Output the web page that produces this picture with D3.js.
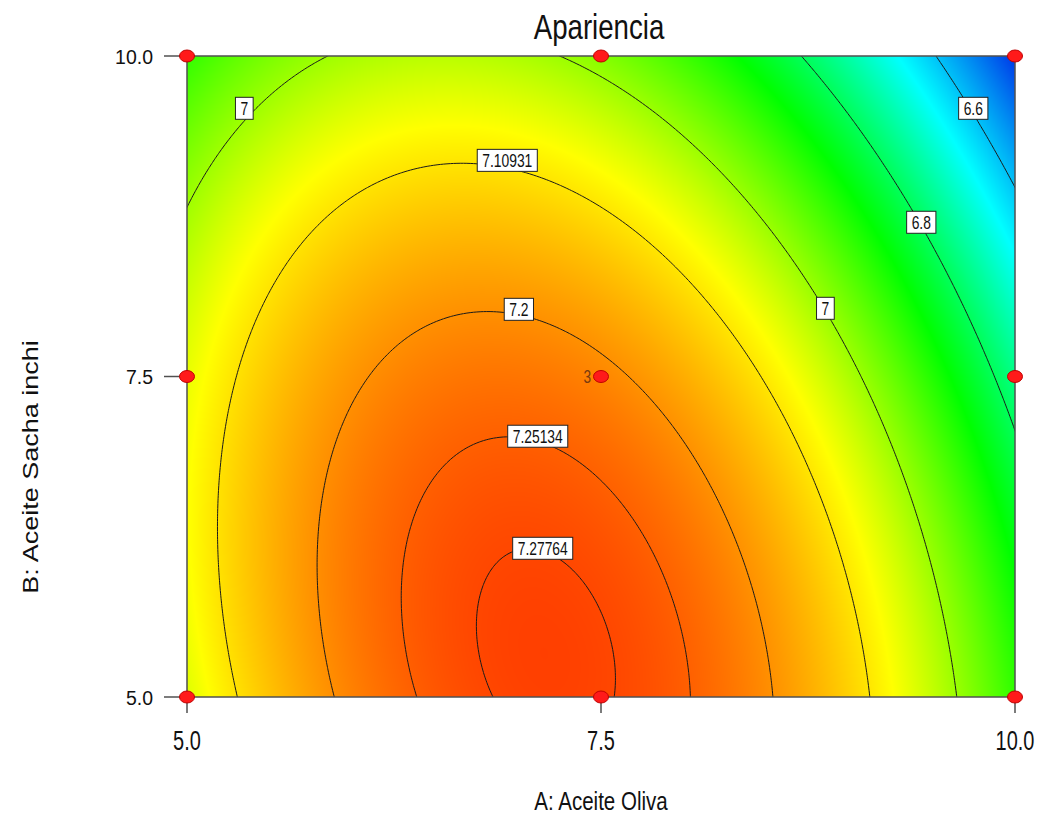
<!DOCTYPE html>
<html>
<head>
<meta charset="utf-8">
<script src="https://cdn.jsdelivr.net/npm/d3@7"></script>
<style>
  html, body { margin: 0; padding: 0; background: #ffffff; }
  svg { display: block; font-family: "Liberation Sans", Arial, sans-serif; }
</style>
</head>
<body>
<svg id="chart" width="1041" height="835"></svg>
<script>
// Quadratic response-surface model for "Apariencia" (coded factors, -1..+1)
const modelTerms = ["Intercept", "A", "B", "AB", "A^2", "B^2"];
const modelCoefficients = [7.21, -0.1508, -0.1509, -0.0795, -0.2995, -0.081];
const factorLow = [5.0, 5.0];
const factorHigh = [10.0, 10.0];

// Contour levels drawn on the surface
const contourLevels = [6.6, 6.8, 7, 7.10931, 7.2, 7.25134, 7.27764];

// Contour label texts and where they sit (A, B)
const labelTexts = ["7", "7.10931", "7.2", "7.25134", "7.27764", "7", "6.8", "6.6"];
const labelA = [5.346, 6.934, 7.004, 7.118, 7.148, 8.855, 9.434, 9.748];
const labelB = [9.592, 9.186, 8.024, 7.034, 6.160, 8.032, 8.703, 9.592];

// Design points (3x3 factorial, centre replicated)
const designA = [5.0, 5.0, 5.0, 7.5, 7.5, 7.5, 10.0, 10.0, 10.0];
const designB = [5.0, 7.5, 10.0, 5.0, 7.5, 10.0, 5.0, 7.5, 10.0];
const designReplicates = [1, 1, 1, 1, 3, 1, 1, 1, 1];

// Axis ticks and titles
const xTicks = [5.0, 7.5, 10.0];
const yTicks = [5.0, 7.5, 10.0];
const chartTitle = "Apariencia";
const xTitle = "A: Aceite Oliva";
const yTitle = "B: Aceite Sacha inchi";

// Colour ramp: low (blue) -> cyan -> green -> yellow -> high (red)
const colorStops = [6.45, 6.66, 6.87, 7.08, 7.30];
const colorValues = ["#0038e8", "#00ffff", "#00ff00", "#ffff00", "#ff3200"];

function predict(A, B) {
  const x = (A - (factorLow[0] + factorHigh[0]) / 2) / ((factorHigh[0] - factorLow[0]) / 2);
  const y = (B - (factorLow[1] + factorHigh[1]) / 2) / ((factorHigh[1] - factorLow[1]) / 2);
  const c = modelCoefficients;
  return c[0] + c[1] * x + c[2] * y + c[3] * x * y + c[4] * x * x + c[5] * y * y;
}

const svg = d3.select("#chart");
const plot = { left: 187, top: 56, right: 1015, bottom: 697 };
const xScale = d3.scaleLinear().domain([factorLow[0], factorHigh[0]]).range([plot.left, plot.right]);
const yScale = d3.scaleLinear().domain([factorLow[1], factorHigh[1]]).range([plot.bottom, plot.top]);
const color = d3.scaleLinear().domain(colorStops).range(colorValues).interpolate(d3.interpolateRgb).clamp(true);

// --- colour-filled surface, one pixel at a time ---
const W = plot.right - plot.left, H = plot.bottom - plot.top;
const canvas = document.createElement("canvas");
canvas.width = W; canvas.height = H;
const ctx = canvas.getContext("2d");
const img = ctx.createImageData(W, H);
for (let j = 0; j < H; j++) {
  const B = yScale.invert(plot.top + j + 0.5);
  for (let i = 0; i < W; i++) {
    const A = xScale.invert(plot.left + i + 0.5);
    const c = d3.rgb(color(predict(A, B)));
    const k = (j * W + i) * 4;
    img.data[k] = c.r; img.data[k + 1] = c.g; img.data[k + 2] = c.b; img.data[k + 3] = 255;
  }
}
ctx.putImageData(img, 0, 0);
svg.append("image")
  .attr("x", plot.left).attr("y", plot.top)
  .attr("width", W).attr("height", H)
  .attr("preserveAspectRatio", "none")
  .attr("href", canvas.toDataURL());

// --- contour lines ---
svg.append("clipPath").attr("id", "plotClip")
  .append("rect").attr("x", plot.left).attr("y", plot.top).attr("width", W).attr("height", H);

const step = 0.02;
const gA0 = factorLow[0] - 0.1, gB0 = factorLow[1] - 0.1;
const nx = Math.round((factorHigh[0] - factorLow[0] + 0.2) / step) + 1;
const ny = Math.round((factorHigh[1] - factorLow[1] + 0.2) / step) + 1;
const grid = new Array(nx * ny);
for (let j = 0; j < ny; j++)
  for (let i = 0; i < nx; i++)
    grid[i + j * nx] = predict(gA0 + i * step, gB0 + j * step);

const contours = d3.contours().size([nx, ny]).thresholds(contourLevels)(grid);
const path = d3.geoPath(d3.geoTransform({
  point(x, y) { this.stream.point(xScale(gA0 + x * step), yScale(gB0 + y * step)); }
}));
svg.append("g").attr("clip-path", "url(#plotClip)")
  .selectAll("path").data(contours).join("path")
  .attr("d", path)
  .attr("fill", "none")
  .attr("stroke", "#1a1a1a")
  .attr("stroke-width", 1);

// --- frame ---
svg.append("rect")
  .attr("x", plot.left).attr("y", plot.top).attr("width", W).attr("height", H)
  .attr("fill", "none").attr("stroke", "#505050").attr("stroke-width", 1.5);

// text helper with horizontal condensing
function addText(g, x, y, str, size, sx, anchor, fill) {
  return g.append("text")
    .attr("transform", `translate(${x},${y}) scale(${sx},1)`)
    .attr("text-anchor", anchor)
    .attr("font-size", size)
    .attr("fill", fill || "#111")
    .text(str);
}

// --- contour labels ---
const labelG = svg.append("g");
labelTexts.forEach((t, i) => {
  const cx = xScale(labelA[i]), cy = yScale(labelB[i]);
  const g = labelG.append("g");
  const rect = g.append("rect");
  const txt = addText(g, cx, cy + 6.5, t, 18, 0.77, "middle", "#111");
  const tw = txt.node().getComputedTextLength() * 0.77;
  rect.attr("x", cx - tw / 2 - 5).attr("y", cy - 11)
    .attr("width", tw + 10).attr("height", 22)
    .attr("fill", "#ffffff").attr("stroke", "#222").attr("stroke-width", 1);
});

// --- axes ticks ---
const axisG = svg.append("g");
xTicks.forEach(v => {
  axisG.append("line").attr("x1", xScale(v)).attr("x2", xScale(v))
    .attr("y1", plot.bottom).attr("y2", plot.bottom + 16)
    .attr("stroke", "#505050").attr("stroke-width", 1.5);
  addText(axisG, xScale(v), 750, d3.format(".1f")(v), 27, 0.74, "middle");
});
yTicks.forEach(v => {
  axisG.append("line").attr("x1", plot.left - 23).attr("x2", plot.left)
    .attr("y1", yScale(v)).attr("y2", yScale(v))
    .attr("stroke", "#505050").attr("stroke-width", 1.5);
  addText(axisG, 153, yScale(v) + 7.5, d3.format(".1f")(v), 20.5, 0.95, "end");
});

// --- design points ---
const ptsG = svg.append("g");
designA.forEach((a, i) => {
  ptsG.append("ellipse")
    .attr("cx", xScale(a)).attr("cy", yScale(designB[i]))
    .attr("rx", 7.5).attr("ry", 6)
    .attr("fill", "#ff1a1a").attr("stroke", "#c00000").attr("stroke-width", 1);
  if (designReplicates[i] > 1) {
    addText(ptsG, xScale(a) - 10, yScale(designB[i]) + 6.5, String(designReplicates[i]), 19, 0.72, "end", "#7a3a10");
  }
});

// --- titles ---
addText(svg, (plot.left + plot.right) / 2 - 2, 39, chartTitle, 35, 0.79, "middle", "#111");
addText(svg, (plot.left + plot.right) / 2, 810, xTitle, 26, 0.79, "middle", "#111");
svg.append("text")
  .attr("transform", `translate(38,467) rotate(-90) scale(1,0.8)`)
  .attr("text-anchor", "middle")
  .attr("font-size", 27)
  .attr("fill", "#111")
  .text(yTitle);
</script>
</body>
</html>
